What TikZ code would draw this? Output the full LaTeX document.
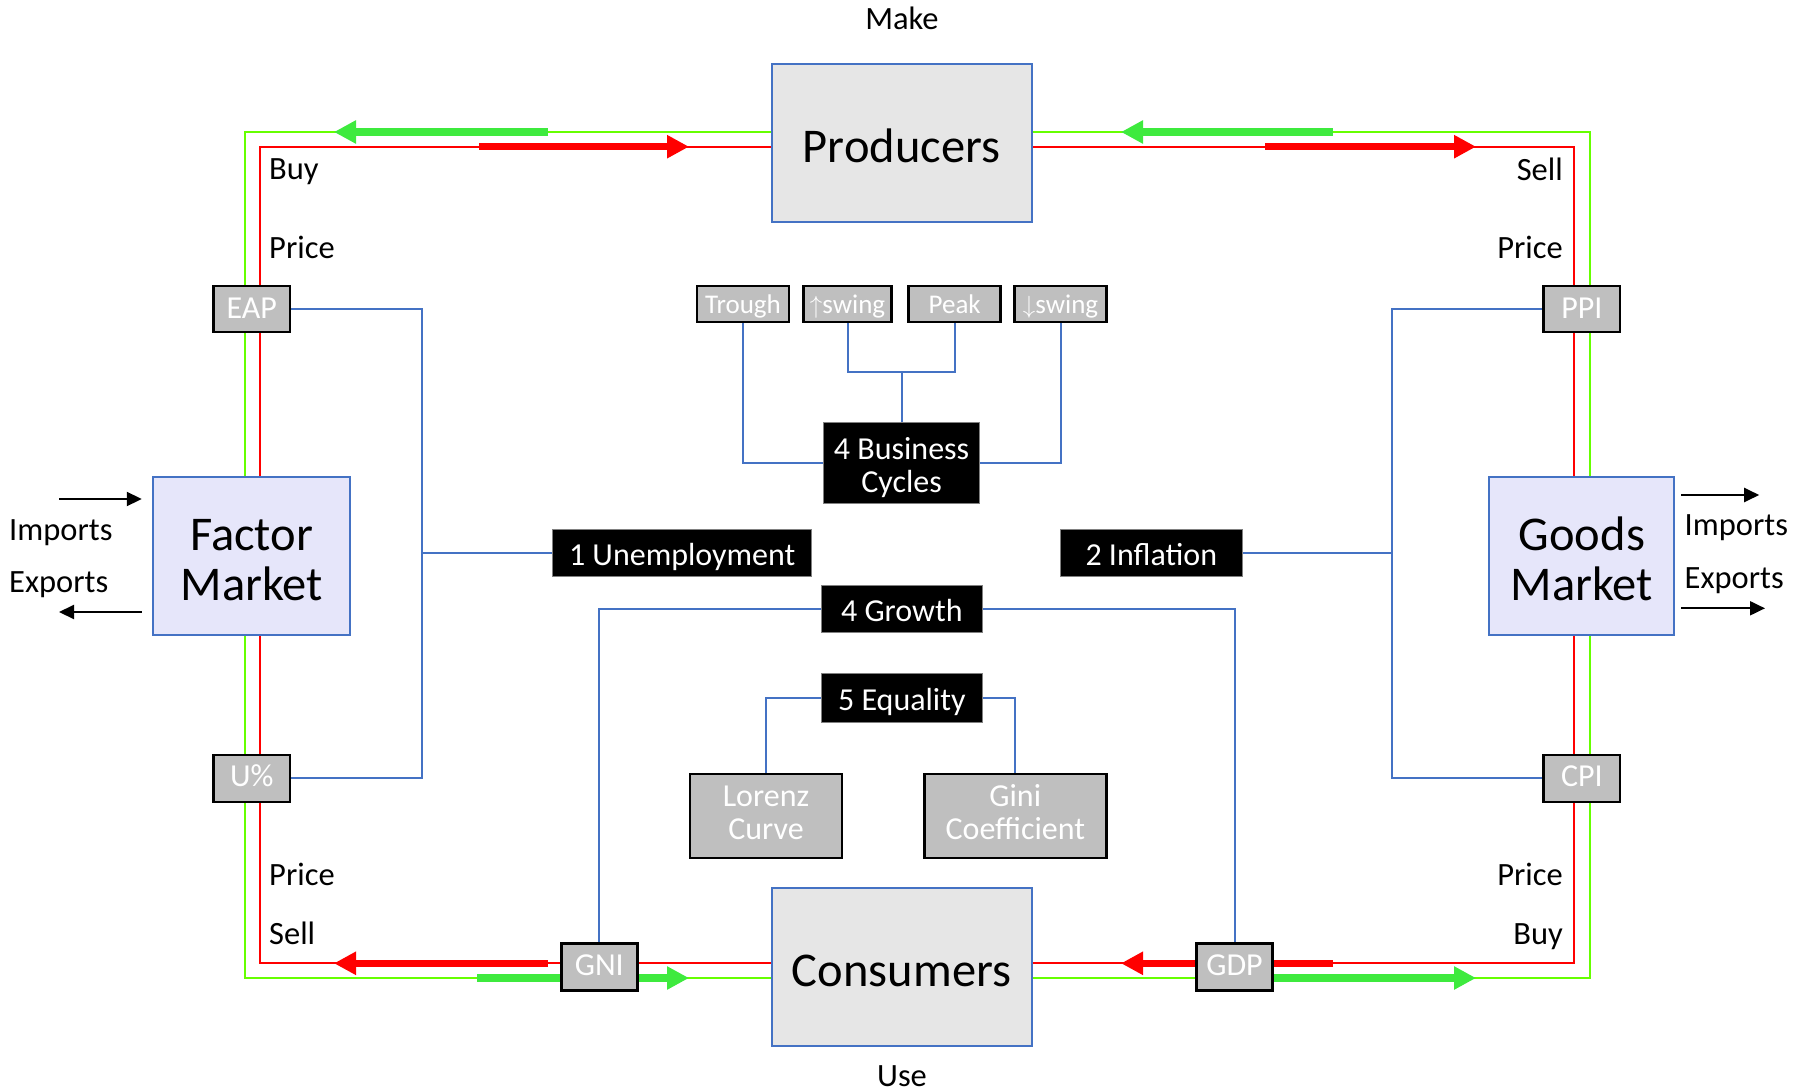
\documentclass[tikz,border=0pt]{standalone}
\usepackage{fontspec}
\setmainfont{Carlito}
\usetikzlibrary{arrows.meta}
\definecolor{lgreen}{HTML}{66FF00}
\definecolor{agreen}{HTML}{3EEA3E}
\definecolor{bblue}{HTML}{4472C4}
\definecolor{pgray}{HTML}{E6E6E6}
\definecolor{lav}{HTML}{E6E6FA}
\definecolor{sgray}{HTML}{BFBFBF}
\pgfdeclarelayer{background}
\pgfsetlayers{background,main}
\newcommand{\boxtxt}[1]{\smash{\begin{tabular}[t]{@{}c@{}}#1\end{tabular}}}
\tikzset{
 big/.style={draw=bblue, line width=2pt, fill=pgray, inner sep=0pt, font=\fontsize{48.5}{50}\selectfont},
 market/.style={big, fill=lav},
 ind/.style={draw=black, line width=2.5pt, fill=sgray, text=white, inner sep=0pt, font=\fontsize{32}{32.7}\selectfont},
 phase/.style={ind, font=\fontsize{27}{30}\selectfont},
 goal/.style={draw=gray, line width=1pt, fill=black, text=white, inner sep=0pt, font=\fontsize{32}{33.3}\selectfont},
 lbl/.style={inner sep=0pt, font=\fontsize{32.5}{36}\selectfont},
 tb/.style={text height=#1, text depth=0pt},
 td/.style={text height=0pt, text depth=#1},
 link/.style={draw=bblue, line width=2pt},
 gflow/.style={draw=lgreen, line width=2pt},
 rflow/.style={draw=red, line width=2pt},
 garrow/.style={draw=agreen, line width=7.5pt, -{Triangle[length=22pt,width=22pt]}},
 rarrow/.style={draw=red, line width=7.5pt, -{Triangle[length=22pt,width=22pt]}},
 trade/.style={draw=black, line width=2pt, -{Triangle[length=15pt,width=14pt]}},
}
\begin{document}
\begin{tikzpicture}[x=1pt,y=-1pt]
\useasboundingbox (0,0) rectangle (1806,1091);
% main boxes
\node[big, tb=39pt, minimum width=260pt, minimum height=158pt] (prod) at (901.6,143.2) {\boxtxt{Producers}};
\node[big, tb=39pt, minimum width=260pt, minimum height=158pt] (cons) at (901.6,967.2) {\boxtxt{Consumers}};
\node[market, td=11pt, minimum width=197pt, minimum height=158pt] (fm) at (251.7,555.5) {\boxtxt{Factor\\Market}};
\node[market, td=11pt, minimum width=185pt, minimum height=158pt] (gm) at (1581.9,555.5) {\boxtxt{Goods\\Market}};
% indicator boxes
\node[ind, tb=18.8pt, minimum width=76.5pt, minimum height=45.7pt] (eap) at (251.7,308.9) {\boxtxt{EAP}};
\node[ind, tb=18.8pt, minimum width=76.5pt, minimum height=45.7pt] (ppi) at (1581.9,308.9) {\boxtxt{PPI}};
\node[ind, tb=16.6pt, minimum width=76.5pt, minimum height=46.7pt] (upct) at (251.7,778.4) {\boxtxt{U\%}};
\node[ind, tb=16.6pt, minimum width=76.5pt, minimum height=46.7pt] (cpi) at (1581.9,778.4) {\boxtxt{CPI}};
\node[ind, tb=16pt, minimum width=76pt, minimum height=46.6pt] (gni) at (599.3,967) {\boxtxt{GNI}};
\node[ind, tb=16pt, minimum width=76.3pt, minimum height=46.6pt] (gdp) at (1234.5,967) {\boxtxt{GDP}};
\node[ind, td=19pt, minimum width=152pt, minimum height=83.7pt] (lorenz) at (766,815.9) {\boxtxt{Lorenz\\Curve}};
\node[ind, td=19pt, minimum width=182pt, minimum height=83.7pt] (gini) at (1015.3,815.9) {\boxtxt{Gini\\Coefficient}};
% phase boxes
\node[phase, tb=18.8pt, minimum width=92pt, minimum height=35.7pt] (trough) at (743,303.9) {\boxtxt{Trough}};
\node[phase, tb=18.8pt, minimum width=88pt, minimum height=35.7pt] (uswing) at (847.5,303.9) {\boxtxt{$\uparrow$swing}};
\node[phase, tb=18.8pt, minimum width=92pt, minimum height=35.7pt] (peak) at (954.7,303.9) {\boxtxt{Peak}};
\node[phase, tb=18.8pt, minimum width=92.4pt, minimum height=35.7pt] (dswing) at (1060.5,303.9) {\boxtxt{$\downarrow$swing}};
% goal boxes
\node[goal, td=8pt, minimum width=156.7pt, minimum height=81.3pt] (bc) at (901.6,463.3) {\boxtxt{4 Business\\Cycles}};
\node[goal, tb=25.6pt, minimum width=258.8pt, minimum height=47.7pt] (unemp) at (682.2,552.9) {\boxtxt{1 Unemployment}};
\node[goal, tb=25.6pt, minimum width=182.6pt, minimum height=47.7pt] (infl) at (1151.3,552.9) {\boxtxt{2 Inflation}};
\node[goal, tb=25.6pt, minimum width=161.6pt, minimum height=47.7pt] (growth) at (901.8,608.9) {\boxtxt{4 Growth}};
\node[goal, tb=24.4pt, minimum width=161.6pt, minimum height=49pt] (eq) at (901.8,697.8) {\boxtxt{5 Equality}};
% labels
\node[lbl, anchor=base] (make) at (902,30) {Make};
\node[lbl, anchor=base] (use) at (902,1086.5) {Use};
\node[lbl, anchor=base west] (buyl) at (269,180) {Buy};
\node[lbl, anchor=base west] (pricetl) at (269,258.3) {Price};
\node[lbl, anchor=base west] (pricebl) at (269,885) {Price};
\node[lbl, anchor=base west] (selll) at (269,944) {Sell};
\node[lbl, anchor=base east] (sellr) at (1563,181) {Sell};
\node[lbl, anchor=base east] (pricetr) at (1563,258.3) {Price};
\node[lbl, anchor=base east] (pricebr) at (1563,885) {Price};
\node[lbl, anchor=base east] (buyr) at (1563,944) {Buy};
\node[lbl, anchor=base west] (impl) at (9,540) {Imports};
\node[lbl, anchor=base west] (expl) at (9,592.7) {Exports};
\node[lbl, anchor=base west] (impr) at (1684.5,535) {Imports};
\node[lbl, anchor=base west] (expr) at (1684.5,588.3) {Exports};
% trade arrows
\coordinate (li0) at (59,499);
\coordinate (li1) at (141.8,499);
\coordinate (le0) at (141.8,612);
\coordinate (le1) at (59,612);
\coordinate (ri0) at (1681.2,495);
\coordinate (ri1) at (1759.2,495);
\coordinate (re0) at (1681.2,608.3);
\coordinate (re1) at (1765,608.3);
\draw[trade] (li0) -- (li1);
\draw[trade] (le0) -- (le1);
\draw[trade] (ri0) -- (ri1);
\draw[trade] (re0) -- (re1);
\coordinate (lj) at (422,552.9);
\coordinate (rj) at (1392.3,552.9);
\coordinate (bj) at (901.6,372.3);
\begin{pgfonlayer}{background}
% circular flows
\draw[gflow] (prod.west |- 0,132) -| (244.5,978) -- (cons.west |- 0,978);
\draw[gflow] (prod.east |- 0,132) -| (1590,978) -- (cons.east |- 0,978);
\draw[rflow] (prod.west |- 0,146.7) -| (259.5,963.3) -- (cons.west |- 0,963.3);
\draw[rflow] (prod.east |- 0,146.7) -| (1574.3,963.3) -- (cons.east |- 0,963.3);
% direction arrows
\draw[garrow] (548,132) -- (334,132);
\draw[rarrow] (479,146.7) -- (689,146.7);
\draw[garrow] (1333,132) -- (1121,132);
\draw[rarrow] (1265,146.7) -- (1476,146.7);
\draw[rarrow] (548,963.3) -- (334,963.3);
\draw[garrow] (477,978) -- (689,978);
\draw[rarrow] (1333,963.3) -- (1121,963.3);
\draw[garrow] (1265,978) -- (1476,978);
% links
\draw[link] (eap.east) -| (lj) |- (upct.east);
\draw[link] (lj) -- (unemp.west);
\draw[link] (ppi.west) -| (rj) |- (cpi.west);
\draw[link] (rj) -- (infl.east);
\draw[link] (trough.south) |- (bc.west);
\draw[link] (dswing.south) |- (bc.east);
\draw[link] (uswing.south) |- (bj) -| (peak.south);
\draw[link] (bj) -- (bc.north);
\draw[link] (growth.west) -| (gni.north);
\draw[link] (growth.east) -| (gdp.north);
\draw[link] (eq.west) -| (lorenz.north);
\draw[link] (eq.east) -| (gini.north);
\end{pgfonlayer}
\end{tikzpicture}
\end{document}
